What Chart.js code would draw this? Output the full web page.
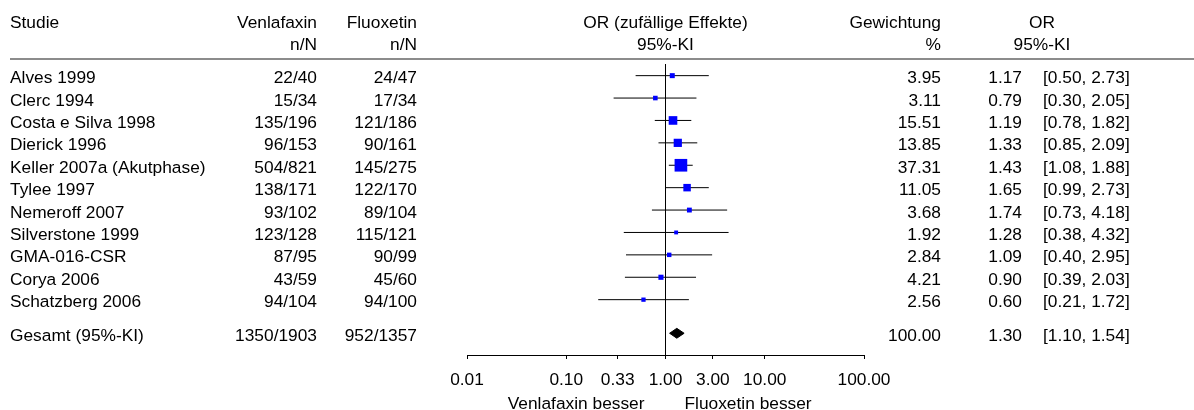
<!DOCTYPE html>
<html>
<head>
<meta charset="utf-8">
<script src="https://cdn.jsdelivr.net/npm/chart.js@4/dist/chart.umd.min.js"></script>
<style>
  html, body { margin: 0; padding: 0; background: #fff; }
  #zone { position: relative; width: 1194px; height: 410px; }
</style>
</head>
<body>
<div id="zone"><canvas id="forest"></canvas></div>
<script>
// donnees
const studien = ["Alves 1999", "Clerc 1994", "Costa e Silva 1998", "Dierick 1996", "Keller 2007a (Akutphase)",
  "Tylee 1997", "Nemeroff 2007", "Silverstone 1999", "GMA-016-CSR", "Corya 2006", "Schatzberg 2006"]
const venlaN = [22, 15, 135, 96, 504, 138, 93, 123, 87, 43, 94]
const venlaTotal = [40, 34, 196, 153, 821, 171, 102, 128, 95, 59, 104]
const fluoxN = [24, 17, 121, 90, 145, 122, 89, 115, 90, 45, 94]
const fluoxTotal = [47, 34, 186, 161, 275, 170, 104, 121, 99, 60, 100]
const gewichtung = [3.95, 3.11, 15.51, 13.85, 37.31, 11.05, 3.68, 1.92, 2.84, 4.21, 2.56]
const orWert = [1.17, 0.79, 1.19, 1.33, 1.43, 1.65, 1.74, 1.28, 1.09, 0.90, 0.60]
const kiUnten = [0.50, 0.30, 0.78, 0.85, 1.08, 0.99, 0.73, 0.38, 0.40, 0.39, 0.21]
const kiOben = [2.73, 2.05, 1.82, 2.09, 1.88, 2.73, 4.18, 4.32, 2.95, 2.03, 1.72]

const gesamtName = "Gesamt (95%-KI)"
const gesamtVenla = [1350, 1903]
const gesamtFluox = [952, 1357]
const gesamtGewicht = 100.00
const gesamtOR = 1.30
const gesamtKI = [1.10, 1.54]

const xTicks = [0.01, 0.10, 0.33, 1.00, 3.00, 10.00, 100.00]

// mise en page
const gesamtZeile = 11.5
const police = '17.33px "Liberation Sans", Arial, sans-serif'

function f2(v){ return Number(v).toFixed(2) }

// lignes des intervalles
var kiDatasets = studien.map(function(s, i){
  return {
    type: 'scatter',
    showLine: true,
    data: [{x: kiUnten[i], y: i}, {x: kiOben[i], y: i}],
    borderColor: '#000',
    borderWidth: 1,
    pointRadius: 0,
    order: 2
  }
})

// carres : taille selon la ponderation
const marker = {
  type: 'scatter',
  data: studien.map(function(s, i){ return {x: orWert[i], y: i} }),
  pointStyle: 'rect',
  pointRadius: gewichtung.map(function(w){ return 0.92 + 1.315 * Math.sqrt(w) }),
  backgroundColor: '#0000ff',
  borderWidth: 0,
  order: 0
}

// losange du resultat global
const h = 0.22
const losange = {
  type: 'scatter',
  showLine: true,
  fill: 'shape',
  data: [
    {x: gesamtKI[0], y: gesamtZeile},
    {x: gesamtOR, y: gesamtZeile - h},
    {x: gesamtKI[1], y: gesamtZeile},
    {x: gesamtOR, y: gesamtZeile + h},
    {x: gesamtKI[0], y: gesamtZeile}
  ],
  borderColor: '#000',
  backgroundColor: '#000',
  borderWidth: 1,
  pointRadius: 0,
  order: 1
}

// tableau de texte autour du graphe
const tableau = {
  id: 'tableau',
  afterDraw: function(chart){
    const ctx = chart.ctx
    const ys = chart.scales.y
    const xs = chart.scales.x
    ctx.save()
    ctx.font = police
    ctx.fillStyle = '#000'
    ctx.textBaseline = 'alphabetic'

    function txt(t, x, y, align){
      ctx.textAlign = align
      ctx.fillText(t, x, y)
    }

    // en-tete
    txt("Studie", 10, 28, 'left')
    txt("Venlafaxin", 317, 28, 'right')
    txt("n/N", 317, 50, 'right')
    txt("Fluoxetin", 417, 28, 'right')
    txt("n/N", 417, 50, 'right')
    const x1 = xs.getPixelForValue(1)
    txt("OR (zufällige Effekte)", x1, 28, 'center')
    txt("95%-KI", x1, 50, 'center')
    txt("Gewichtung", 941, 28, 'right')
    txt("%", 941, 50, 'right')
    txt("OR", 1042, 28, 'center')
    txt("95%-KI", 1042, 50, 'center')

    ctx.strokeStyle = '#666'
    ctx.lineWidth = 1.5
    ctx.beginPath()
    ctx.moveTo(10, 59)
    ctx.lineTo(1194, 59)
    ctx.stroke()

    // lignes des etudes
    for(let i = 0; i < studien.length; i++){
      const y = ys.getPixelForValue(i) + 7.5
      txt(studien[i], 10, y, 'left')
      txt(venlaN[i] + "/" + venlaTotal[i], 317, y, 'right')
      txt(fluoxN[i] + "/" + fluoxTotal[i], 417, y, 'right')
      txt(f2(gewichtung[i]), 941, y, 'right')
      txt(f2(orWert[i]), 1022, y, 'right')
      txt("[" + f2(kiUnten[i]) + ", " + f2(kiOben[i]) + "]", 1043, y, 'left')
    }
    const yg = ys.getPixelForValue(gesamtZeile) + 7.5
    txt(gesamtName, 10, yg, 'left')
    txt(gesamtVenla[0] + "/" + gesamtVenla[1], 317, yg, 'right')
    txt(gesamtFluox[0] + "/" + gesamtFluox[1], 417, yg, 'right')
    txt(f2(gesamtGewicht), 941, yg, 'right')
    txt(f2(gesamtOR), 1022, yg, 'right')
    txt("[" + f2(gesamtKI[0]) + ", " + f2(gesamtKI[1]) + "]", 1043, yg, 'left')

    // sous l'axe
    txt("Venlafaxin besser", x1 - 21, 409, 'right')
    txt("Fluoxetin besser", x1 + 19, 409, 'left')
    ctx.restore()
  }
}

const config = {
  type: 'scatter',
  data: { datasets: [marker, losange].concat(kiDatasets) },
  options: {
    responsive: true,
    maintainAspectRatio: false,
    animation: false,
    layout: { padding: { left: 467, right: 330, top: 64, bottom: 19 } },
    plugins: { legend: { display: false }, tooltip: { enabled: false } },
    scales: {
      x: {
        type: 'logarithmic',
        min: 0.01,
        max: 100,
        afterBuildTicks: function(axis){
          axis.ticks = xTicks.map(function(v){ return {value: v} })
        },
        afterFit: function(axis){ axis.height = 36 },
        ticks: {
          autoSkip: false,
          maxRotation: 0,
          padding: 11,
          color: '#000',
          font: { family: '"Liberation Sans", Arial, sans-serif', size: 17.33 },
          callback: function(v){ return f2(v) }
        },
        grid: {
          drawOnChartArea: true,
          color: function(c){ return (c.tick && c.tick.value === 1) ? '#000' : 'rgba(0,0,0,0)' },
          tickColor: '#000',
          tickLength: 4,
          lineWidth: 1
        },
        border: { display: true, color: '#000', width: 1 }
      },
      y: {
        type: 'linear',
        reverse: true,
        min: -0.52,
        max: 12.47,
        display: false
      }
    }
  },
  plugins: [tableau]
}

const graphe = new Chart(document.getElementById("forest"), config)
</script>
</body>
</html>
